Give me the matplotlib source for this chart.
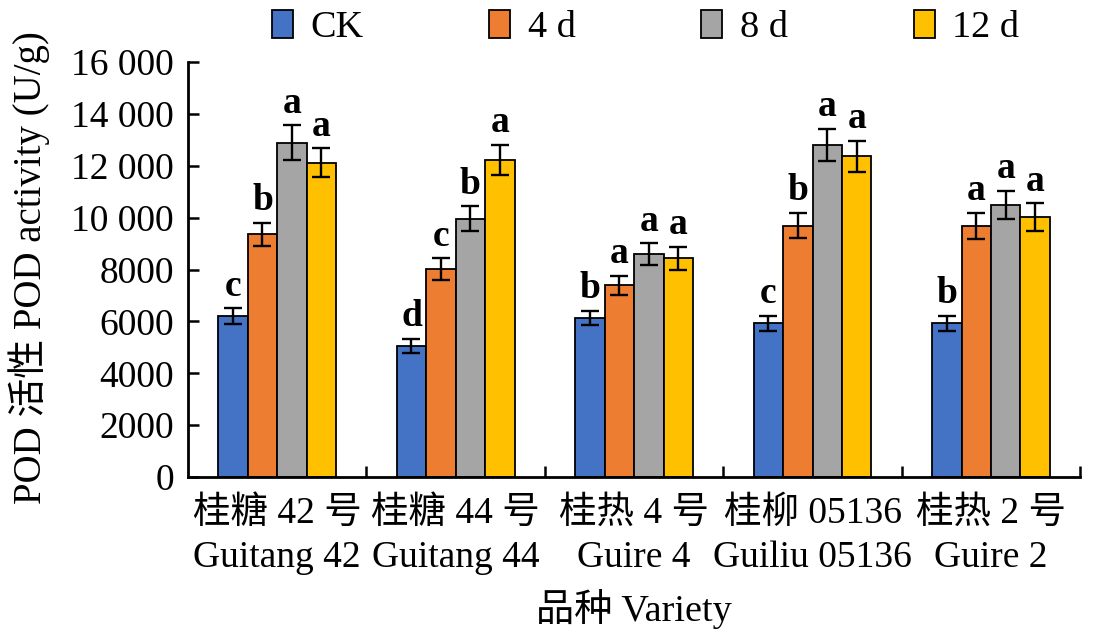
import numpy as np
import matplotlib
matplotlib.use("Agg")
import matplotlib.pyplot as plt

plt.rcParams['font.family'] = ['Liberation Serif', 'Noto Sans CJK SC']

varieties = ["桂糖 42 号\nGuitang 42", "桂糖 44 号\nGuitang 44", "桂热 4 号\nGuire 4",
             "桂柳 05136\nGuiliu 05136", "桂热 2 号\nGuire 2"]
series = ["CK", "4 d", "8 d", "12 d"]
colors = ["#4472C4", "#ED7D31", "#A5A5A5", "#FFC000"]

# POD activity (U/g), per series, one value per variety
ck = [6200, 5050, 6130, 5920, 5920]
d4 = [9350, 8010, 7390, 9690, 9680]
d8 = [12890, 9950, 8600, 12800, 10490]
d12 = [12120, 12220, 8440, 12370, 10020]

ck_err = [300, 280, 280, 290, 290]
d4_err = [450, 430, 360, 490, 500]
d8_err = [680, 480, 420, 620, 540]
d12_err = [560, 590, 440, 600, 530]

letters = [["c", "b", "a", "a"],
           ["d", "c", "b", "a"],
           ["b", "a", "a", "a"],
           ["c", "b", "a", "a"],
           ["b", "a", "a", "a"]]

yticks = [0, 2000, 4000, 6000, 8000, 10000, 12000, 14000, 16000]
ytick_labels = ["0", "2000", "4000", "6000", "8000", "10 000", "12 000", "14 000", "16 000"]

values = [ck, d4, d8, d12]
errors = [ck_err, d4_err, d8_err, d12_err]

fig = plt.figure(figsize=(11.09, 6.44), dpi=100)
ax = fig.add_axes([0.1695, 0.2593, 0.8045, 0.6444])

x = np.arange(len(varieties))
w = 0.165
handles = []
for j in range(len(series)):
    pos = x + (j - 1.5) * w
    b = ax.bar(pos, values[j], width=w, color=colors[j], edgecolor="black",
               linewidth=1.3, label=series[j], zorder=2)
    handles.append(b)
    ax.errorbar(pos, values[j], yerr=errors[j], fmt="none", ecolor="black",
                elinewidth=1.7, capsize=6.5, capthick=1.7, zorder=3)
    for i in range(len(varieties)):
        ax.annotate(letters[i][j], (pos[i], values[j][i] + errors[j][i]),
                    xytext=(0, 9), textcoords="offset points", ha="center",
                    va="baseline", fontsize=27, fontweight="bold")

ax.set_xlim(-0.5, 4.5)
ax.set_ylim(0, 16000)
ax.set_yticks(yticks)
ax.set_yticklabels(ytick_labels)
ax.set_xticks(x)
ax.set_xticklabels(varieties, linespacing=1.35)
ax.set_xticks(np.arange(0.5, 5, 1), minor=True)
ax.tick_params(axis="x", which="major", length=0, labelsize=27, pad=14)
ax.tick_params(axis="x", which="minor", direction="in", length=8, width=1.8)
ax.tick_params(axis="y", direction="in", length=8, width=1.8, labelsize=27, pad=10)

for s in ["top", "right"]:
    ax.spines[s].set_visible(False)
for s in ["left", "bottom"]:
    ax.spines[s].set_linewidth(2)

fig.text(0.026, 0.584, "POD 活性 POD activity (U/g)", fontsize=28, rotation=90,
         ha="center", va="center")
ax.set_xlabel("品种 Variety", fontsize=27.5, labelpad=10)

fig.legend(handles=handles, labels=series, loc="center", bbox_to_anchor=(0.582, 0.957),
           ncol=4, frameon=False, fontsize=27.5, handlelength=0.55, handleheight=0.75,
           handletextpad=0.45, columnspacing=3.3, borderaxespad=0)

fig.savefig("out.png", dpi=100)
